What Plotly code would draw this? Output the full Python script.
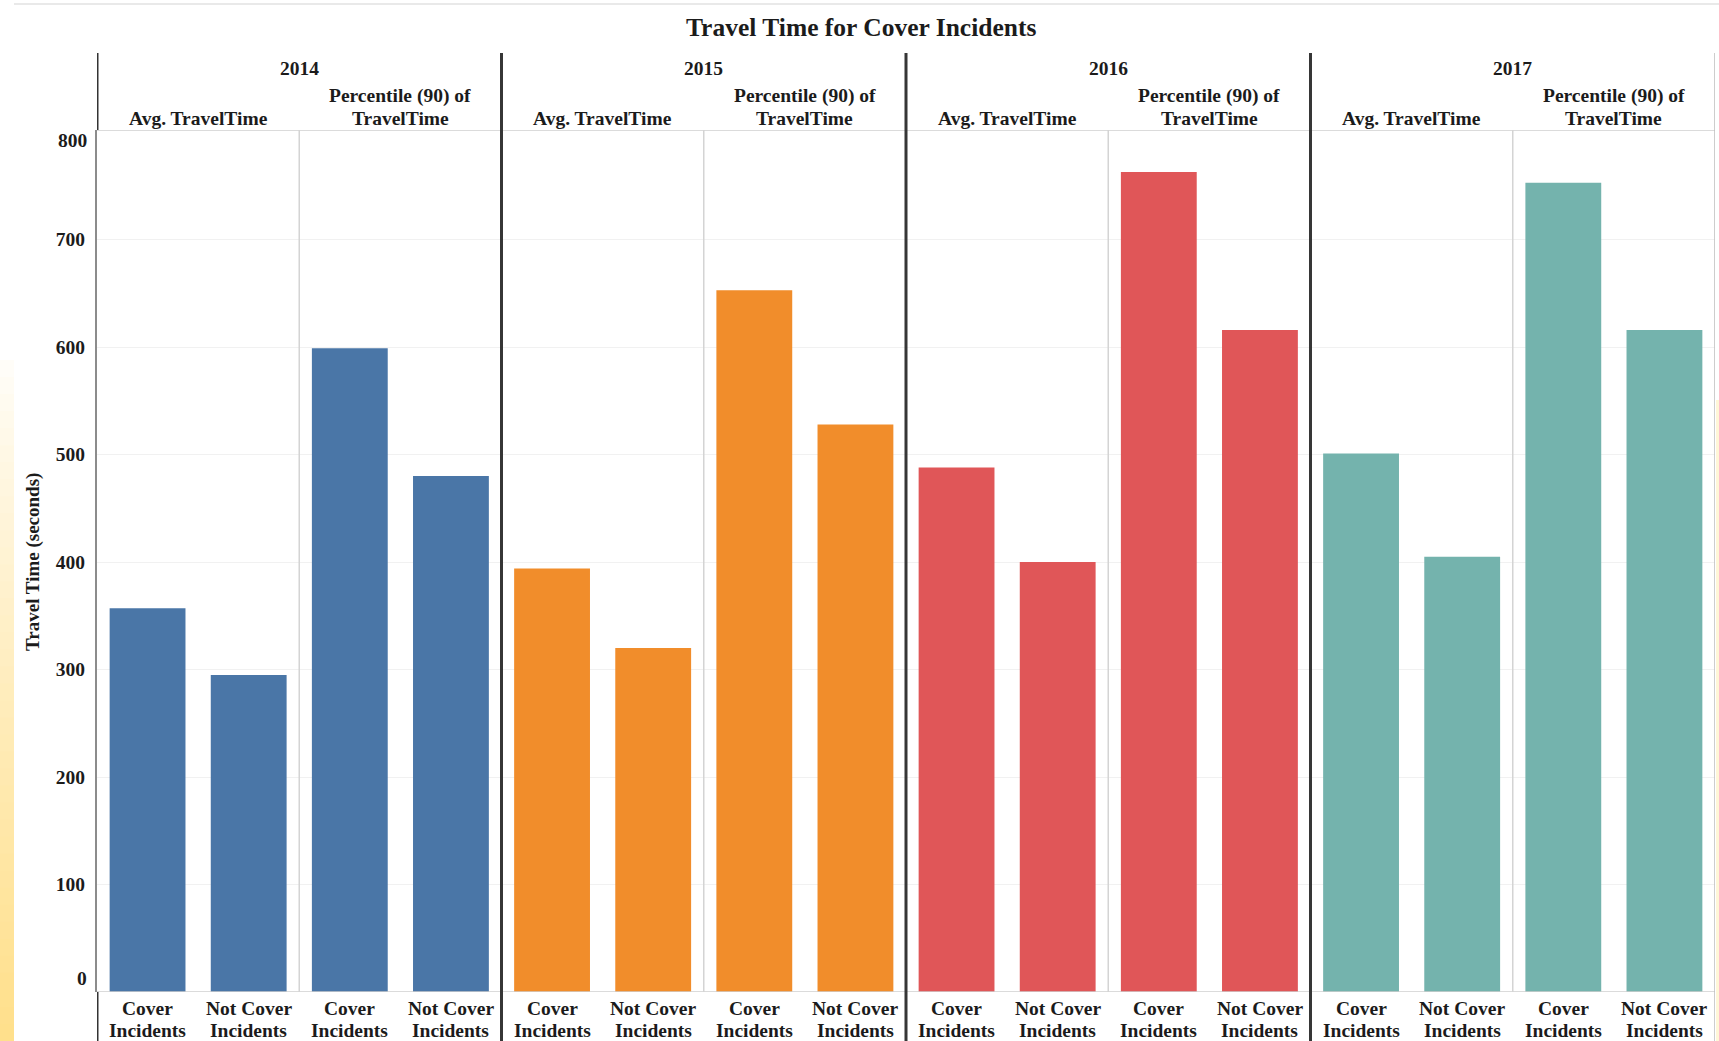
import plotly.graph_objects as go

# ---------------- data ----------------
years = ["2014", "2015", "2016", "2017"]
measures = ["Avg. TravelTime", "Percentile (90) of TravelTime"]
groups = ["Cover Incidents", "Not Cover Incidents"]
group_line1 = ["Cover", "Not Cover"]
group_line2 = ["Incidents", "Incidents"]

avg_cover = [357, 394, 488, 501]
avg_not_cover = [295, 320, 400, 405]
p90_cover = [599, 653, 763, 753]
p90_not_cover = [480, 528, 616, 616]

year_colors = ["#4a76a7", "#f18d2b", "#e05658", "#74b3ad"]
y_ticks = [0, 100, 200, 300, 400, 500, 600, 700, 800]

# ---------------- layout geometry (pixels) ----------------
W, H = 1719, 1041
X0, X1 = 97, 1715
Y_TOP, Y_BOT = 130, 992
Y_MAX = 802
FONT = "Liberation Serif"
TXT = "#1b1b1b"
FS = 19.5


def px(x):
    return x / W


def py(y):
    return 1 - y / H


fig = go.Figure()

n_per_year = len(measures) * len(groups)
for yi, yr in enumerate(years):
    vals = [avg_cover[yi], avg_not_cover[yi], p90_cover[yi], p90_not_cover[yi]]
    xs = [yi * n_per_year + k for k in range(n_per_year)]
    names = [f"{m} | {g}" for m in measures for g in groups]
    fig.add_trace(go.Bar(
        x=xs, y=vals, width=0.75, name=yr,
        marker=dict(color=year_colors[yi], line=dict(width=0)),
        customdata=names,
        hovertemplate=yr + "<br>%{customdata}<br>%{y}<extra></extra>",
        showlegend=False,
    ))

n_cat = len(years) * n_per_year
annotations = []
shapes = []


def bold(size):
    return dict(size=size, family=FONT, color=TXT, weight="bold")


# title
annotations.append(dict(text="Travel Time for Cover Incidents", x=px(861), y=py(28),
                        xref="paper", yref="paper", showarrow=False,
                        font=bold(25.5), xanchor="center", yanchor="middle"))

# headers
for yi, yr in enumerate(years):
    base = yi * n_per_year
    annotations.append(dict(text=yr, x=base + 1.5, y=py(68), xref="x", yref="paper",
                            showarrow=False, xanchor="center", yanchor="middle", font=bold(FS)))
    annotations.append(dict(text=measures[0], x=base + 0.5, y=py(118), xref="x", yref="paper",
                            showarrow=False, xanchor="center", yanchor="middle", font=bold(FS)))
    m2 = measures[1].split(" of ")
    annotations.append(dict(text=m2[0] + " of", x=base + 2.5, y=py(96), xref="x", yref="paper",
                            showarrow=False, xanchor="center", yanchor="middle", font=bold(FS)))
    annotations.append(dict(text=m2[1], x=base + 2.5, y=py(118), xref="x", yref="paper",
                            showarrow=False, xanchor="center", yanchor="middle", font=bold(FS)))
    for k in range(n_per_year):
        gi = k % len(groups)
        annotations.append(dict(text=group_line1[gi], x=base + k, y=py(1008), xref="x", yref="paper",
                                showarrow=False, xanchor="center", yanchor="middle", font=bold(FS)))
        annotations.append(dict(text=group_line2[gi], x=base + k, y=py(1030), xref="x", yref="paper",
                                showarrow=False, xanchor="center", yanchor="middle", font=bold(FS)))

# y tick labels at the ends (shifted inward as in the original)
annotations.append(dict(text=str(y_ticks[-1]), x=px(89), y=py(141), xref="paper", yref="paper",
                        showarrow=False, xanchor="right", yanchor="middle", font=bold(FS)))
annotations.append(dict(text=str(y_ticks[0]), x=px(89), y=py(978), xref="paper", yref="paper",
                        showarrow=False, xanchor="right", yanchor="middle", font=bold(FS)))

# y axis title
annotations.append(dict(text="Travel Time (seconds)", x=px(33), y=py(562), xref="paper", yref="paper",
                        showarrow=False, xanchor="center", yanchor="middle", textangle=-90,
                        font=bold(19)))

# yellow gradient strip at left edge
n_steps = 40
g_top, g_bot = 360, H
c_end = (255, 224, 140)
for i in range(n_steps):
    t = ((i + 1) / n_steps) ** 0.8
    r = int(255 + (c_end[0] - 255) * t)
    g = int(255 + (c_end[1] - 255) * t)
    b = int(255 + (c_end[2] - 255) * t)
    y0 = g_top + (g_bot - g_top) * i / n_steps
    y1 = g_top + (g_bot - g_top) * (i + 1) / n_steps + 1
    shapes.append(dict(type="rect", xref="paper", yref="paper", x0=0, x1=px(14),
                       y0=py(y1), y1=py(y0), fillcolor=f"rgb({r},{g},{b})",
                       line=dict(width=0), layer="below"))
# faint strip at right edge
shapes.append(dict(type="rect", xref="paper", yref="paper", x0=px(1716), x1=1,
                   y0=0, y1=py(400), fillcolor="rgb(255,246,215)", line=dict(width=0), layer="below"))

# top thin line
shapes.append(dict(type="line", xref="paper", yref="paper", x0=px(14), x1=1, y0=py(4), y1=py(4),
                   line=dict(color="#e2e2e2", width=1.5)))
# header bottom line and baseline
shapes.append(dict(type="line", xref="x", yref="y", x0=-0.5, x1=n_cat - 0.5, y0=Y_MAX, y1=Y_MAX,
                   line=dict(color="#cfcfcf", width=1.5)))
shapes.append(dict(type="line", xref="x", yref="y", x0=-0.5, x1=n_cat - 0.5, y0=0, y1=0,
                   line=dict(color="#cfcfcf", width=1.5)))
# measure separators inside panes
for yi in range(len(years)):
    xs = yi * n_per_year + 1.5
    shapes.append(dict(type="line", xref="x", yref="y", x0=xs, x1=xs, y0=0, y1=Y_MAX,
                       line=dict(color="#d4d4d4", width=1.5)))
# dark left rule in header and footer
shapes.append(dict(type="line", xref="x", yref="paper", x0=-0.5, x1=-0.5, y0=py(53), y1=py(Y_TOP),
                   line=dict(color="#333333", width=3)))
shapes.append(dict(type="line", xref="x", yref="paper", x0=-0.5, x1=-0.5, y0=py(Y_BOT), y1=0,
                   line=dict(color="#333333", width=3)))
# year separators
for yi in range(1, len(years)):
    xs = yi * n_per_year - 0.5
    shapes.append(dict(type="line", xref="x", yref="paper", x0=xs, x1=xs, y0=py(53), y1=0,
                       line=dict(color="#363636", width=3)))
# right border
shapes.append(dict(type="line", xref="x", yref="paper", x0=n_cat - 0.5, x1=n_cat - 0.5, y0=py(53), y1=0,
                   line=dict(color="#bdbdbd", width=1.5)))

fig.update_layout(
    width=W, height=H, autosize=False,
    margin=dict(l=0, r=0, t=0, b=0, pad=0),
    paper_bgcolor="white", plot_bgcolor="white",
    font=dict(family=FONT, color=TXT, size=FS, weight="bold"),
    annotations=annotations, shapes=shapes,
    xaxis=dict(domain=[px(X0), px(X1)], range=[-0.5, n_cat - 0.5], showticklabels=False,
               showgrid=False, zeroline=False, showline=False, fixedrange=True),
    yaxis=dict(domain=[py(Y_BOT), py(Y_TOP)], range=[0, Y_MAX],
               tickvals=y_ticks[1:-1], ticktext=[str(v) for v in y_ticks[1:-1]],
               tickfont=bold(FS),
               ticks="outside", ticklen=0, ticklabelstandoff=6,
               showgrid=True, gridcolor="#f1f1f1", gridwidth=1,
               zeroline=False, showline=True, linecolor="#8c8c8c", linewidth=2,
               fixedrange=True),
)

fig.write_html("out.html", config={"displayModeBar": False},
               post_script="document.body.style.margin='0';document.body.style.overflow='hidden';")
